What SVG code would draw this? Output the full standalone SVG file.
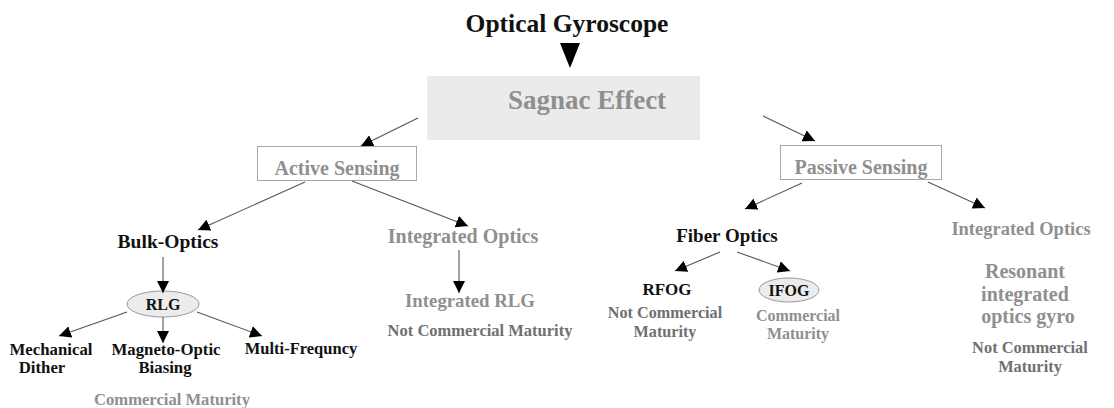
<svg xmlns="http://www.w3.org/2000/svg" width="1114" height="408" viewBox="0 0 1114 408">
<defs>
<marker id="ah" viewBox="0 0 10 10" refX="10" refY="5" markerWidth="12" markerHeight="12" markerUnits="userSpaceOnUse" orient="auto">
<path d="M0,0 L10,5 L0,10 z" fill="#000"/>
</marker>
<style>
text{font-family:"Liberation Serif","DejaVu Serif",serif;font-weight:bold;text-anchor:middle}
.k{fill:#111}
.g{fill:#8f8f8f}
.d{fill:#707070}
.box{fill:#fff;stroke:#a8a8a8;stroke-width:1}
.ell{fill:#ececec;stroke:#999;stroke-width:1}
.c line{stroke:#555;stroke-width:1.1;marker-end:url(#ah)}
</style>
</defs>
<rect width="1114" height="408" fill="#fff"/>
<g id="title"><text class="k" x="567" y="32" font-size="25.5">Optical Gyroscope</text></g>
<g id="sagnac"><rect x="427" y="76" width="273" height="64" fill="#ebebeb"/><text class="g" x="587" y="109" font-size="27">Sagnac Effect</text></g>
<g id="active"><rect class="box" x="257.5" y="146.5" width="159" height="34"/><text class="g" x="337" y="175" font-size="20">Active Sensing</text></g>
<g id="passive"><rect class="box" x="780.5" y="145.5" width="161" height="34"/><text class="g" x="861" y="174" font-size="20">Passive Sensing</text></g>
<g id="bulk"><text class="k" x="168" y="248" font-size="19.5">Bulk-Optics</text></g>
<g id="rlg"><ellipse class="ell" cx="163" cy="304" rx="36" ry="13"/><text class="k" x="163" y="310" font-size="16">RLG</text></g>
<g id="mech"><text class="k" x="51" y="355" font-size="16.8">Mechanical</text><text class="k" x="42" y="373" font-size="16.8">Dither</text></g>
<g id="magneto"><text class="k" x="166" y="355" font-size="16.8">Magneto-Optic</text><text class="k" x="165" y="373" font-size="16.8">Biasing</text></g>
<g id="multi"><text class="k" x="301" y="354" font-size="16.5">Multi-Frequncy</text></g>
<g id="cm1"><text class="g" x="172" y="405" font-size="16.6">Commercial Maturity</text></g>
<g id="intopt1"><text class="g" x="463" y="243" font-size="20">Integrated Optics</text></g>
<g id="intrlg"><text class="g" x="470" y="307" font-size="18.8">Integrated RLG</text><text class="d" x="480" y="336" font-size="16.5">Not Commercial Maturity</text></g>
<g id="fiber"><text class="k" x="727" y="242" font-size="19">Fiber Optics</text></g>
<g id="rfog"><text class="k" x="667" y="295" font-size="17">RFOG</text><text class="d" x="665" y="318" font-size="16.2">Not Commercial</text><text class="d" x="665" y="337" font-size="16.2">Maturity</text></g>
<g id="ifog"><ellipse class="ell" cx="789" cy="290" rx="30" ry="12"/><text class="k" x="789" y="296" font-size="16">IFOG</text><text class="g" x="798" y="321" font-size="16">Commercial</text><text class="g" x="798" y="339" font-size="16">Maturity</text></g>
<g id="intopt2"><text class="g" x="1021" y="235" font-size="18.5">Integrated Optics</text></g>
<g id="resonant"><text class="g" x="1025" y="278" font-size="20">Resonant</text><text class="g" x="1025" y="301" font-size="20">integrated</text><text class="g" x="1028" y="323" font-size="20">optics gyro</text><text class="d" x="1030" y="353" font-size="16.4">Not Commercial</text><text class="d" x="1030" y="372" font-size="16.4">Maturity</text></g>
<g id="connectors" class="c">
<polygon points="560,43 580,43 570,68" fill="#000"/>
<line x1="418" y1="118" x2="361" y2="146"/>
<line x1="763" y1="116" x2="815" y2="141"/>
<line x1="305" y1="182" x2="198" y2="230"/>
<line x1="352" y1="181" x2="468" y2="226"/>
<line x1="163" y1="257" x2="163" y2="293"/>
<line x1="127" y1="312" x2="59" y2="336"/>
<line x1="163" y1="317" x2="163" y2="343"/>
<line x1="197" y1="312" x2="262" y2="336"/>
<line x1="459" y1="250" x2="459" y2="293"/>
<line x1="802" y1="183" x2="745" y2="209"/>
<line x1="928" y1="182" x2="985" y2="208"/>
<line x1="720" y1="252" x2="675" y2="271"/>
<line x1="737" y1="252" x2="790" y2="271"/>
</g>
</svg>
